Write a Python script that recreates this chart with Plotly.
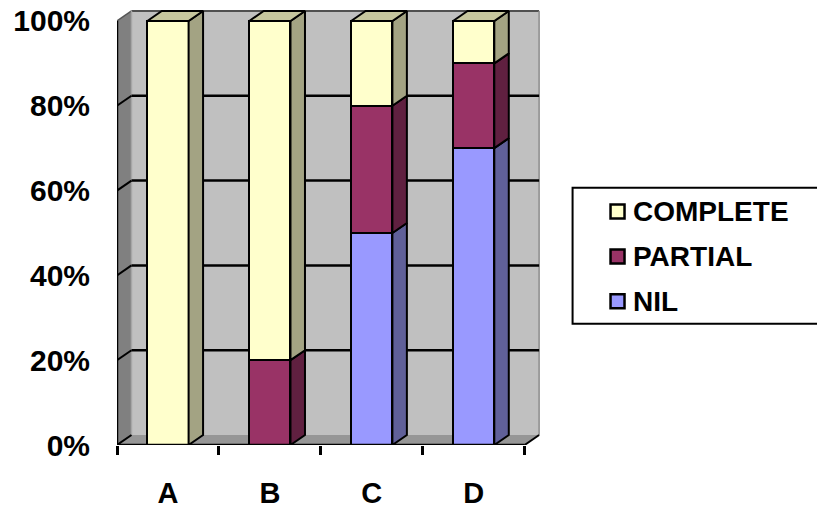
import plotly.graph_objects as go

categories = ["A", "B", "C", "D"]
complete = [100, 80, 20, 10]
partial = [0, 20, 30, 20]
nil = [0, 0, 50, 70]
y_ticks = [0, 20, 40, 60, 80, 100]
series = [
    ("NIL", nil, "#9999FF", "#606099", "#8080C0"),
    ("PARTIAL", partial, "#993366", "#602040", "#7A2950"),
    ("COMPLETE", complete, "#FFFFCC", "#A3A383", "#C6C69E"),
]

# pixel geometry of the axis frame
X0, PX_CAT = 117.0, 102.0
Y0, PX_PCT = 445.5, 4.245
X_MAX, Y_MAX = 4.2, 104.0
DX = 14.5 / PX_CAT
DY = 10.0 / PX_PCT
BAR_W = 0.405
W, H = 817, 505
FONT = "Liberation Sans, Arial, sans-serif"
FS_Y = 30
FS_X = 29
FS_LEG = 28
INK = "#000000"

plot_w = X_MAX * PX_CAT
plot_h = Y_MAX * PX_PCT
xs = [i + 0.5 for i in range(len(categories))]
n = len(categories)

fig = go.Figure()

def poly(px, py, fill, name):
    fig.add_trace(go.Scatter(
        x=px + px[:1], y=py + py[:1], mode="lines", fill="toself",
        fillcolor=fill, line=dict(color=INK, width=2), showlegend=False,
        hoverinfo="skip", name=name))

# front faces
for name, vals, col, side, top in series:
    fig.add_trace(go.Bar(
        x=xs, y=vals, width=BAR_W, name=name, marker=dict(
            color=col, line=dict(color=INK, width=2.5)),
        showlegend=False))

# side and top faces, derived from the same values
for i, xc in enumerate(xs):
    base = 0
    r = xc + BAR_W / 2
    l = xc - BAR_W / 2
    for name, vals, col, side, top in series:
        v = vals[i]
        if v <= 0:
            continue
        poly([r, r + DX, r + DX, r], [base, base + DY, base + v + DY, base + v], side, name + " side")
        base += v
    poly([l, l + DX, r + DX, r], [base, base + DY, base + DY, base], series[-1][4], "top")

shapes = []
def rect_poly(path, fill, layer="below", lw=0, lc=INK):
    shapes.append(dict(type="path", path=path, xref="x", yref="y", fillcolor=fill,
                       line=dict(color=lc, width=lw), layer=layer))

# walls and floor
rect_poly(f"M {DX},{DY} L {n+DX},{DY} L {n+DX},{100+DY} L {DX},{100+DY} Z", "#C0C0C0")
rect_poly(f"M 0,0 L {DX},{DY} L {DX},{100+DY} L 0,100 Z", "#808080")
rect_poly(f"M 0,0 L {DX},{DY} L {n+DX},{DY} L {n},0 Z", "#969696")
# wall edges
shapes.append(dict(type="line", xref="x", yref="y", x0=0, y0=100, x1=DX, y1=100 + DY,
                   line=dict(color="#555555", width=1.5), layer="below"))
shapes.append(dict(type="line", xref="x", yref="y", x0=DX, y0=100 + DY, x1=n + DX, y1=100 + DY,
                   line=dict(color="#505050", width=2), layer="below"))
shapes.append(dict(type="line", xref="x", yref="y", x0=n + DX, y0=DY, x1=n + DX, y1=100 + DY,
                   line=dict(color="#8C8C8C", width=1.5), layer="below"))
shapes.append(dict(type="line", xref="x", yref="y", x0=DX, y0=DY, x1=DX, y1=100 + DY,
                   line=dict(color="#A6A6A6", width=1.5), layer="below"))
# gridlines on the walls
for t in y_ticks[:-1]:
    if t > 0:
        shapes.append(dict(type="line", xref="x", yref="y", x0=DX, y0=t + DY, x1=n + DX, y1=t + DY,
                           line=dict(color=INK, width=2.5), layer="below"))
    shapes.append(dict(type="line", xref="x", yref="y", x0=0, y0=t, x1=DX, y1=t + DY,
                       line=dict(color=INK, width=2), layer="below"))
# right floor edge
shapes.append(dict(type="line", xref="x", yref="y", x0=n, y0=0, x1=n + DX, y1=DY,
                   line=dict(color=INK, width=2), layer="below"))
# light strip under the axis
shapes.append(dict(type="line", xref="x", ysizemode="pixel", yref="y", yanchor=0, y0=-2.5, y1=-2.5,
                   x0=0, x1=n, line=dict(color="#C8C8C8", width=2), layer="below"))
# axis lines and y ticks
shapes.append(dict(type="line", xref="x", yref="y", x0=0, y0=0, x1=n, y1=0,
                   line=dict(color=INK, width=2.5), layer="above"))
shapes.append(dict(type="line", xref="x", yref="y", x0=0, y0=0, x1=0, y1=100,
                   line=dict(color=INK, width=2.5), layer="above"))
for t in y_ticks:
    shapes.append(dict(type="line", xref="x", xsizemode="pixel", xanchor=0, x0=-9, x1=0,
                       yref="y", y0=t, y1=t, line=dict(color=INK, width=2.5), layer="above"))

# legend (box, swatches, labels)
def paper_x(px):
    return (px - X0) / plot_w
def paper_y(py):
    return (Y0 - py) / plot_h

shapes.append(dict(type="rect", xref="paper", yref="paper",
                   x0=paper_x(573), x1=paper_x(830), y0=paper_y(324), y1=paper_y(188),
                   fillcolor="white", line=dict(color=INK, width=2), layer="above"))
annotations = []
for row, (name, vals, col, side, top) in enumerate(reversed(series)):
    cy = 211.7 + row * 45
    shapes.append(dict(type="rect", xref="paper", yref="paper",
                       x0=paper_x(611), x1=paper_x(625), y0=paper_y(cy + 7), y1=paper_y(cy - 7),
                       fillcolor=col, line=dict(color=INK, width=2.5), layer="above"))
    annotations.append(dict(text=f"<b>{name}</b>", xref="paper", yref="paper",
                            x=paper_x(631), y=paper_y(cy), xanchor="left", yanchor="middle",
                            showarrow=False, align="left",
                            font=dict(family=FONT, size=FS_LEG, color=INK)))

fig.update_layout(
    width=W, height=H, paper_bgcolor="white", plot_bgcolor="white",
    barmode="stack", bargap=0, showlegend=False,
    margin=dict(l=X0, t=Y0 - plot_h, r=W - X0 - plot_w, b=H - Y0, pad=0, autoexpand=False),
    shapes=shapes, annotations=annotations,
    xaxis=dict(
        range=[0, X_MAX], tickmode="array", tickvals=xs, ticktext=[f"<b>{c}</b>" for c in categories],
        ticks="outside", ticklen=22, tickcolor="rgba(0,0,0,0)", showgrid=False, zeroline=False,
        showline=False, tickfont=dict(family=FONT, size=FS_X, color=INK),
        minor=dict(tickmode="array", tickvals=list(range(n + 1)), ticks="outside", ticklen=9,
                   tickwidth=2.5, tickcolor=INK, showgrid=False)),
    yaxis=dict(
        range=[0, Y_MAX], tickmode="array", tickvals=y_ticks,
        ticktext=[f"<b>{t}%</b>" for t in y_ticks],
        ticks="outside", ticklen=20, tickcolor="rgba(0,0,0,0)", showgrid=False, zeroline=False,
        showline=False, tickfont=dict(family=FONT, size=FS_Y, color=INK)),
)

fig.write_html("out.html", config=dict(displayModeBar=False),
               post_script="document.body.style.margin='0';")
